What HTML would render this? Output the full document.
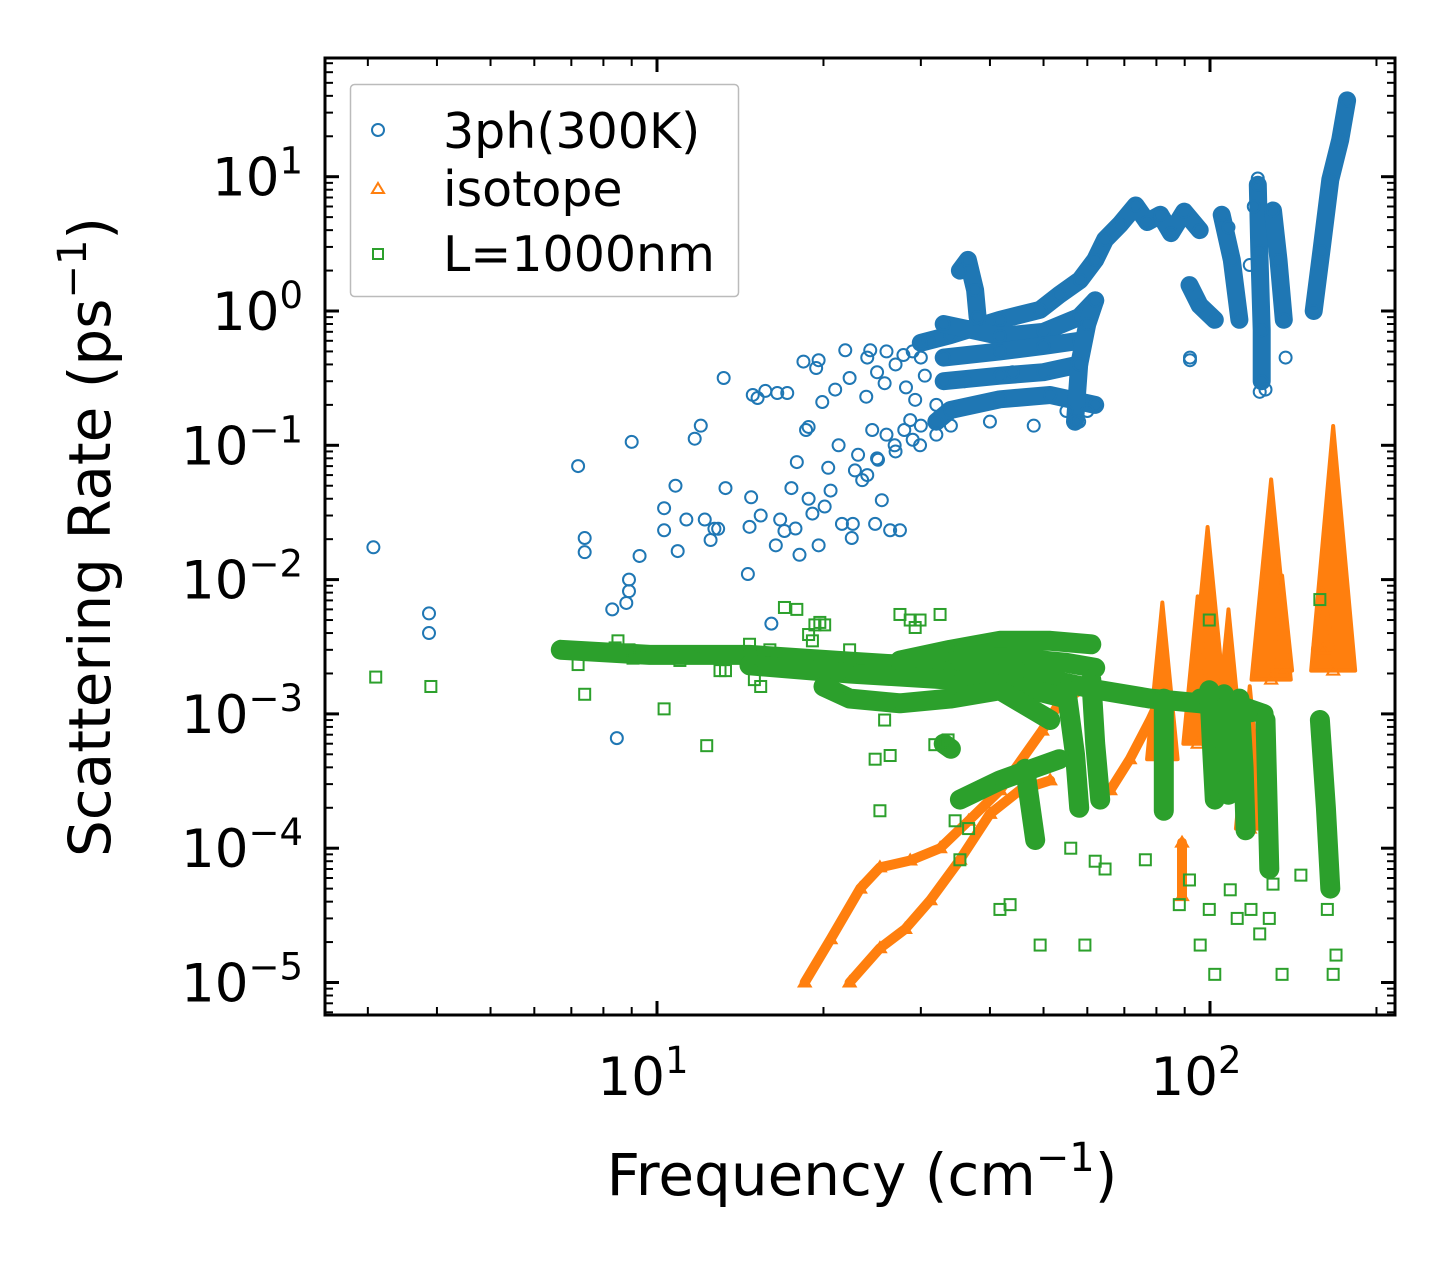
<!DOCTYPE html>
<html><head><meta charset="utf-8"><style>
html,body{margin:0;padding:0;background:#fff;}
svg{display:block;font-family:"DejaVu Sans","Liberation Sans",sans-serif;}
</style></head><body>
<svg id="chart" width="1455" height="1265" viewBox="0 0 1455 1265" xmlns="http://www.w3.org/2000/svg">
<rect x="0" y="0" width="1455" height="1265" fill="#fff"/>
<g id="plot"></g>
<g id="axes"></g>
<text x="862" y="1195" font-size="58" text-anchor="middle">Frequency (cm<tspan dy="-24" font-size="40">−1</tspan><tspan dy="24">)</tspan></text>
<text transform="translate(110,537) rotate(-90)" font-size="58" text-anchor="middle">Scattering Rate (ps<tspan dy="-24" font-size="40">−1</tspan><tspan dy="24">)</tspan></text>
<g>
<rect x="350.5" y="84.5" width="388" height="212" rx="4" fill="#fff" fill-opacity="0.8" stroke="#bbb" stroke-width="1.5"/>
<circle cx="378" cy="130" r="6" fill="none" stroke="#1f77b4" stroke-width="2"/>
<text x="443" y="148" font-size="49">3ph(300K)</text>
<polygon points="378,183 384,193 372,193" fill="none" stroke="#ff7f0e" stroke-width="2"/>
<text x="443" y="206" font-size="49">isotope</text>
<rect x="373" y="249" width="10" height="10" fill="none" stroke="#2ca02c" stroke-width="2"/>
<text x="443" y="271" font-size="49">L=1000nm</text>
</g>
</svg>
<script>
// ---- data (frequency cm^-1, rate ps^-1) ----
const xTickValues = [10, 100];
const xTickExponents = ["1", "2"];
const yTickValues = [10, 1, 0.1, 0.01, 0.001, 0.0001, 0.00001];
const yTickExponents = ["1", "0", "−1", "−2", "−3", "−4", "−5"];

const threePhPoints = [[3.07,0.0174],[3.87,0.0056],[3.87,0.004],[7.2,0.07],[7.4,0.0204],[7.4,0.016],[8.3,0.006],[8.46,0.00066],[8.8,0.0067],[8.9,0.01],[8.9,0.0082],[9.0,0.106],[9.3,0.015],[10.3,0.034],[10.3,0.0233],[10.8,0.05],[10.9,0.0163],[11.3,0.028],[11.7,0.112],[12.0,0.14],[12.2,0.028],[12.5,0.0197],[12.7,0.0239],[12.9,0.0239],[13.2,0.317],[13.3,0.048],[14.6,0.011],[14.7,0.0247],[14.8,0.041],[14.9,0.237],[15.2,0.225],[15.4,0.03],[15.7,0.254],[16.4,0.018],[16.1,0.0047],[16.5,0.245],[16.7,0.028],[17.0,0.023],[17.2,0.245],[17.5,0.048],[17.8,0.024],[17.9,0.075],[18.1,0.0153],[18.4,0.42],[18.6,0.13],[18.8,0.137],[18.8,0.04],[19.1,0.031],[19.4,0.376],[19.6,0.43],[19.6,0.018],[19.9,0.21],[20.1,0.035],[20.4,0.068],[20.6,0.046],[21.0,0.26],[21.3,0.1],[21.6,0.026],[21.9,0.51],[22.3,0.317],[22.5,0.0204],[22.6,0.026],[22.8,0.065],[23.1,0.085],[23.5,0.055],[23.9,0.23],[24.3,0.51],[24.5,0.13],[24.8,0.026],[25.1,0.078],[25.5,0.039],[25.8,0.29],[26.4,0.0233],[26.9,0.1],[27.5,0.0233],[27.9,0.47],[28.2,0.27],[28.7,0.154],[29.3,0.218],[29.9,0.1],[30.5,0.33],[32,0.12],[34,0.14],[36,0.3],[40,0.15],[44,0.35],[48,0.14],[55,0.18],[58,0.15],[60,0.18],[92,0.43],[92,0.45],[126,0.26],[123,0.25],[137,0.45],[122,9.7],[120,6.0],[108,4.2],[118,2.2],[24,0.45],[25,0.35],[26,0.5],[27,0.4],[29,0.5],[30,0.45],[31,0.6],[26,0.12],[28,0.13],[30,0.14],[32,0.2],[27,0.09],[29,0.11],[25,0.08],[24,0.06]];
const threePhBands = [
 [[30,0.58],[33.9,0.66],[41.7,0.86],[49.3,1.02],[53.4,1.32],[58.2,1.7],[62,2.4],[64.6,3.4],[68.7,4.4],[73.4,6.1],[77,4.6],[81.3,5.2],[85,3.8],[89.8,5.5],[95.8,4.0]],
 [[33,0.8],[41.7,0.65],[50,0.7],[58,0.9],[62,1.2]],
 [[33,0.45],[41.7,0.5],[50,0.55],[58,0.6]],
 [[33,0.3],[41.7,0.33],[50,0.35],[58,0.4]],
 [[32,0.15],[33.9,0.183],[41.7,0.22],[51.4,0.237],[62,0.2]],
 [[35.3,2.0],[36.5,2.4],[37.6,1.43],[38,0.9]],
 [[57,0.15],[58,0.4],[60,0.8],[62,1.2]],
 [[91.8,1.56],[95.8,1.1],[102,0.86]],
 [[105,5.2],[109.5,2.4],[113,0.86]],
 [[122,8.7],[122.8,2.8],[124,0.72],[124,0.3]],
 [[130,5.6],[133,2.4],[136,0.86]],
 [[154,1.0],[159,2.8],[165,9.5],[172,18.8],[177,37]]
];

const isotopeBands = [
 [[18.5,1e-5],[20.6,2.1e-5],[23.3,5e-5],[25.3,7.2e-5],[28.7,8.1e-5],[32.5,1e-4],[36.6,1.6e-4],[41.7,2.7e-4],[49.7,7.5e-4],[53.4,1.2e-3],[58.2,1.5e-3]],
 [[22.3,1e-5],[25.3,1.8e-5],[28.1,2.5e-5],[31.2,4.1e-5],[35.3,8.2e-5],[40,1.8e-4],[45.3,2.7e-4],[51.4,3.2e-4]],
 [[66,2.7e-4],[71.6,4.6e-4],[78,9e-4],[81.3,1.3e-3]],
 [[89,1.1e-4],[89,4.4e-5]]
];
// spikes: [frequency, base rate, peak rate]
const isotopeSpikes = [[82,4.6e-4,6.3e-3],[99,1.3e-3,2.3e-2],[108,3.2e-4,5.6e-3],[95,6e-4,7e-3],[129,1.8e-3,5.2e-2],[135,2.1e-3,1e-2],[167,2.1e-3,0.13],[160,3e-3,8e-3],[118,1.4e-4,1.5e-3]];

const boundaryPoints = [[3.1,1.88e-3],[3.9,1.6e-3],[7.2,2.33e-3],[7.4,1.4e-3],[8.4,3.1e-3],[8.5,3.5e-3],[8.9,3.0e-3],[9.05,2.6e-3],[9.5,2.7e-3],[10.3,1.09e-3],[10.8,2.7e-3],[11.0,2.5e-3],[11.6,2.65e-3],[12.0,2.65e-3],[12.3,5.8e-4],[13.0,2.1e-3],[13.3,2.1e-3],[14.7,3.3e-3],[14.8,2.5e-3],[15.0,1.8e-3],[15.4,1.6e-3],[16.0,3.0e-3],[17.0,6.2e-3],[17.9,6e-3],[18.8,3.9e-3],[19.1,3.5e-3],[19.3,4.6e-3],[19.7,4.8e-3],[20.1,4.6e-3],[22.3,3.0e-3],[23.3,2.5e-3],[25.3,1.9e-4],[24.8,4.6e-4],[25.8,9e-4],[26.4,4.9e-4],[27.5,5.5e-3],[28.7,5e-3],[29.3,4.4e-3],[29.9,5e-3],[31.8,5.9e-4],[32.5,5.5e-3],[33.6,6.4e-4],[34.6,1.6e-4],[35.3,8.2e-5],[36.6,1.4e-4],[41.7,3.5e-5],[43.5,3.8e-5],[49.3,1.9e-5],[59.4,1.9e-5],[64.6,7e-5],[76.4,8.2e-5],[91.8,5.8e-5],[96,1.9e-5],[99.7,3.5e-5],[102,1.15e-5],[108.8,4.9e-5],[118.6,3.5e-5],[123,2.3e-5],[130,5.4e-5],[135,1.15e-5],[146,6.3e-5],[167,1.15e-5],[169,1.6e-5],[99.7,5e-3],[158,7.1e-3],[56,1e-4],[62,8e-5],[88,3.8e-5],[112,3e-5],[128,3e-5],[163,3.5e-5]];
const boundaryBands = [
 [[6.7,3.0e-3],[9.7,2.75e-3],[14.7,2.75e-3],[22.3,2.45e-3],[33.9,2.2e-3],[41.7,2.0e-3],[51.4,1.8e-3],[63.3,1.5e-3],[78,1.3e-3],[96,1.2e-3],[118.6,1.03e-3]],
 [[14.7,2.3e-3],[22.3,2.0e-3],[33.9,1.8e-3],[45,1.6e-3],[55,1.3e-3]],
 [[27.5,2.5e-3],[33.9,3e-3],[41.7,3.5e-3],[51.4,3.5e-3],[61,3.3e-3]],
 [[35,2.7e-3],[45,2.6e-3],[55,2.4e-3],[62,2.2e-3]],
 [[20,1.6e-3],[22.3,1.3e-3],[27.5,1.2e-3],[33.9,1.3e-3],[41.7,1.5e-3],[51.4,9e-4]],
 [[61,1.8e-3],[62,6e-4],[63.3,2.3e-4]],
 [[55,1.5e-3],[57,5e-4],[58,2e-4]],
 [[82.5,1.3e-3],[82.5,5e-4],[82.5,1.9e-4]],
 [[96,1.3e-3],[110,1.2e-3],[125,1.0e-3]],
 [[99.7,1.5e-3],[101,5e-4],[102,2.3e-4]],
 [[106,1.4e-3],[107,5e-4],[108,2.5e-4]],
 [[113,1.3e-3],[115,4e-4],[116,1.36e-4]],
 [[126,9e-4],[127,2.5e-4],[128,7e-5]],
 [[158,9e-4],[162,2e-4],[165,5e-5]],
 [[46.3,3.9e-4],[48.3,1.15e-4]],
 [[35.3,2.3e-4],[41.7,3.2e-4],[53.4,4.6e-4]],
 [[33,6e-4],[34,5.5e-4]]
];

// ---- scales ----
const L = 325, R = 1395, T = 58, B = 1015;
function X(f){ return 657 + 553 * (Math.log10(f) - 1); }
function Y(r){ return 311 - 134.3 * Math.log10(r); }
const NS = "http://www.w3.org/2000/svg";
const plot = document.getElementById('plot');
const axes = document.getElementById('axes');
function mk(tag, parent){ const e = document.createElementNS(NS, tag); parent.appendChild(e); return e; }

const clip = mk('clipPath', plot); clip.setAttribute('id','clipArea');
const cr = mk('rect', clip); cr.setAttribute('x',L); cr.setAttribute('y',T); cr.setAttribute('width',R-L); cr.setAttribute('height',B-T);
const g = mk('g', plot); g.setAttribute('clip-path','url(#clipArea)');

function band(pts, color, w, name){
  const p = mk('polyline', g);
  p.setAttribute('points', pts.map(d => X(d[0]).toFixed(1)+','+Y(d[1]).toFixed(1)).join(' '));
  p.setAttribute('fill','none'); p.setAttribute('stroke',color); p.setAttribute('stroke-width',w);
  p.setAttribute('stroke-linecap','round'); p.setAttribute('stroke-linejoin','round');
  
  
}
function circ(d){
  const c = mk('circle', g);
  c.setAttribute('cx', X(d[0])); c.setAttribute('cy', Y(d[1])); c.setAttribute('r', 6);
  c.setAttribute('fill','none'); c.setAttribute('stroke','#1f77b4'); c.setAttribute('stroke-width',2);
  
  
}
function sq(d){
  const s = mk('rect', g);
  s.setAttribute('x', X(d[0])-5.5); s.setAttribute('y', Y(d[1])-5.5); s.setAttribute('width',11); s.setAttribute('height',11);
  s.setAttribute('fill','none'); s.setAttribute('stroke','#2ca02c'); s.setAttribute('stroke-width',2);
  
  
}
function tri(d){
  const x = X(d[0]), y = Y(d[1]);
  const t = mk('polygon', g);
  t.setAttribute('points', x+','+(y-6)+' '+(x+6)+','+(y+4)+' '+(x-6)+','+(y+4));
  t.setAttribute('fill','none'); t.setAttribute('stroke','#ff7f0e'); t.setAttribute('stroke-width',2);
  
  
}

// blue
threePhBands.forEach(b => { band(b, '#1f77b4', 18, 'band-3ph'); b.forEach(circ); });
threePhPoints.forEach(circ);
// orange
isotopeBands.forEach(b => { band(b, '#ff7f0e', 10, 'band-isotope'); b.forEach(tri); });
isotopeSpikes.forEach(s => {
  const x = X(s[0]), yb = Y(s[1]), yp = Y(s[2]);
  const w = Math.min(22, Math.max(10, (yb - yp) * 0.1));
  const p = mk('polygon', g);
  p.setAttribute('points', x+','+(yp-4)+' '+(x+w)+','+yb+' '+(x-w)+','+yb);
  p.setAttribute('fill','#ff7f0e'); p.setAttribute('stroke','#ff7f0e'); p.setAttribute('stroke-width',4);
  p.setAttribute('stroke-linejoin','round');
  
  
  tri([s[0], s[1]]);
});
// green
boundaryBands.forEach(b => { band(b, '#2ca02c', 20, 'band-boundary'); b.forEach(sq); });
boundaryPoints.forEach(sq);

// ---- axes ----
const frame = mk('rect', axes);
frame.setAttribute('x',L); frame.setAttribute('y',T); frame.setAttribute('width',R-L); frame.setAttribute('height',B-T);
frame.setAttribute('fill','none'); frame.setAttribute('stroke','#000'); frame.setAttribute('stroke-width',3);


function line(x1,y1,x2,y2,w,name){
  const l = mk('line', axes);
  l.setAttribute('x1',x1); l.setAttribute('y1',y1); l.setAttribute('x2',x2); l.setAttribute('y2',y2);
  l.setAttribute('stroke','#000'); l.setAttribute('stroke-width',w);
  
  
}
for (let dec = 1; dec <= 100; dec *= 10) {
  for (let m = 1; m <= 9; m++) {
    const x = X(dec * m);
    if (x < L + 1 || x > R - 1) continue;
    const len = m === 1 ? 14 : 8, w = m === 1 ? 3 : 2;
    line(x, B, x, B - len, w, m === 1 ? 'x-major-tick' : 'x-minor-tick');
    line(x, T, x, T + len, w, m === 1 ? 'x-major-tick-top' : 'x-minor-tick-top');
  }
}
xTickValues.forEach((v, i) => {
  const t = mk('text', axes);
  t.setAttribute('x', X(v) - 14); t.setAttribute('y', 1095); t.setAttribute('font-size', 53); t.setAttribute('text-anchor','middle');
  
  
  t.innerHTML = '10<tspan dy="-22" font-size="37">' + xTickExponents[i] + '</tspan>';
});
for (let e = -6; e <= 1; e++) {
  for (let m = 1; m <= 9; m++) {
    const y = Y(Math.pow(10, e) * m);
    if (y < T + 1 || y > B - 1) continue;
    const len = m === 1 ? 14 : 8, w = m === 1 ? 3 : 2;
    line(L, y, L + len, y, w, m === 1 ? 'y-major-tick' : 'y-minor-tick');
    line(R, y, R - len, y, w, m === 1 ? 'y-major-tick-right' : 'y-minor-tick-right');
  }
}
yTickValues.forEach((v, i) => {
  const t = mk('text', axes);
  t.setAttribute('x', 303); t.setAttribute('y', Y(v) + 19); t.setAttribute('font-size', 53); t.setAttribute('text-anchor','end');
  
  
  t.innerHTML = '10<tspan dy="-22" font-size="37">' + yTickExponents[i] + '</tspan>';
});
</script>
</body></html>
